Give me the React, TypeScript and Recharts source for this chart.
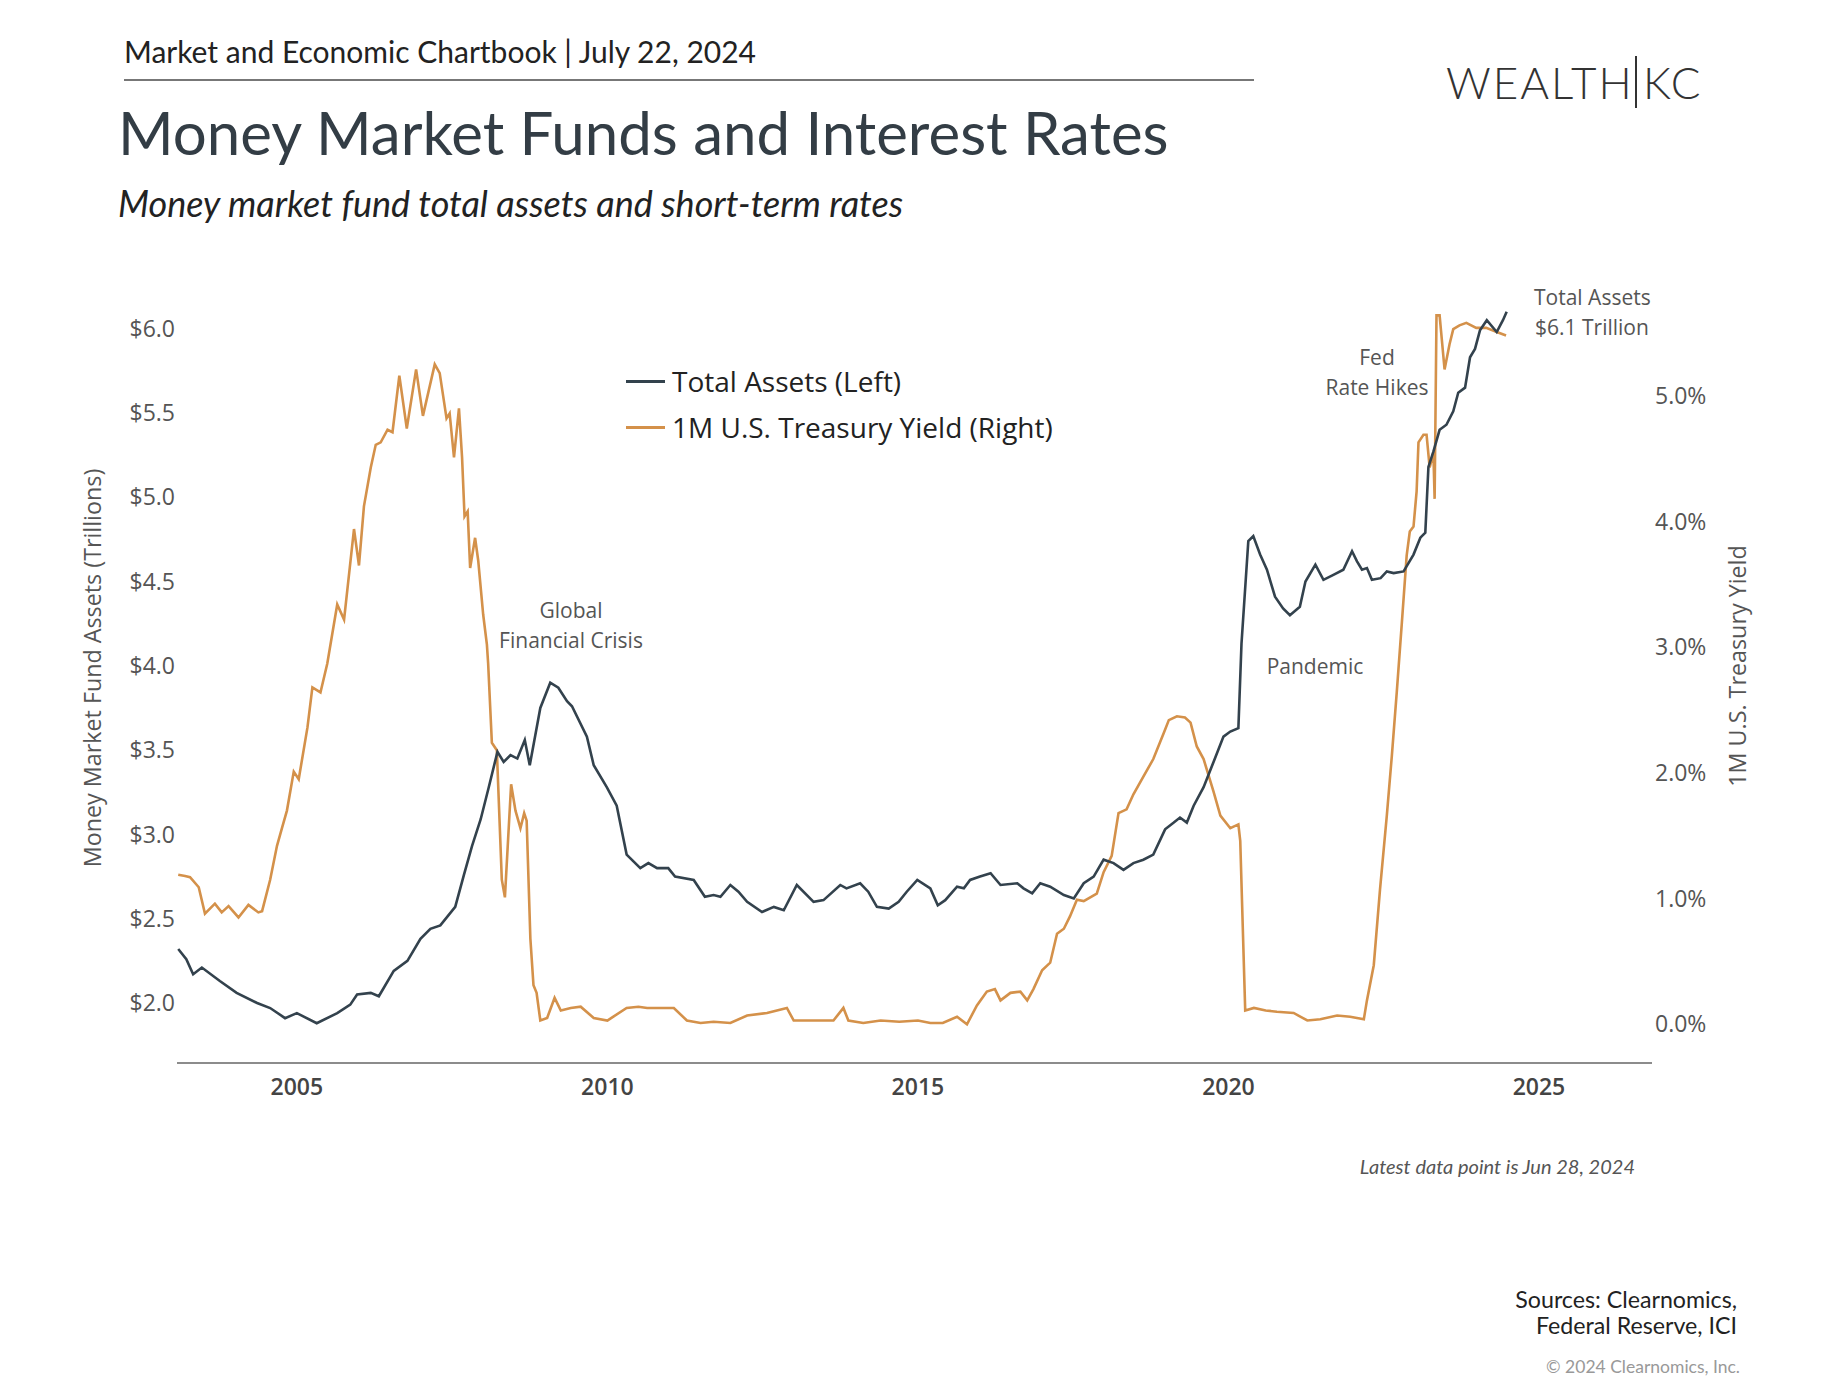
import { LineChart, Line, XAxis, YAxis } from "recharts";

// Money market fund total assets, $ trillions
const assetDates = [
  2003.09, 2003.22, 2003.33, 2003.47, 2003.76, 2004.03, 2004.36, 2004.57, 2004.81, 2005.0,
  2005.32, 2005.65, 2005.86, 2005.97, 2006.19, 2006.32, 2006.56, 2006.78, 2006.99, 2007.15,
  2007.31, 2007.55, 2007.69, 2007.82, 2007.96, 2008.09, 2008.23, 2008.33, 2008.44, 2008.55,
  2008.67, 2008.75, 2008.92, 2009.08, 2009.21, 2009.35, 2009.43, 2009.67, 2009.78, 2009.99,
  2010.15, 2010.31, 2010.53, 2010.66, 2010.8, 2010.98, 2011.09, 2011.39, 2011.57, 2011.71,
  2011.82, 2011.98, 2012.11, 2012.25, 2012.49, 2012.68, 2012.84, 2013.05, 2013.32, 2013.48,
  2013.75, 2013.85, 2014.07, 2014.2, 2014.34, 2014.53, 2014.69, 2014.82, 2014.99, 2015.2,
  2015.32, 2015.44, 2015.63, 2015.74, 2015.84, 2016.0, 2016.17, 2016.33, 2016.6, 2016.7,
  2016.84, 2016.97, 2017.13, 2017.35, 2017.51, 2017.67, 2017.83, 2017.99, 2018.15, 2018.31,
  2018.47, 2018.63, 2018.79, 2018.98, 2019.12, 2019.22, 2019.33, 2019.44, 2019.6, 2019.76,
  2019.92, 2020.03, 2020.16, 2020.21, 2020.32, 2020.4, 2020.51, 2020.62, 2020.75, 2020.88,
  2020.99, 2021.15, 2021.24, 2021.4, 2021.53, 2021.69, 2021.85, 2021.99, 2022.07, 2022.15,
  2022.23, 2022.31, 2022.45, 2022.55, 2022.66, 2022.82, 2022.98, 2023.09, 2023.17, 2023.22,
  2023.3, 2023.4, 2023.51, 2023.62, 2023.7, 2023.81, 2023.89, 2023.97, 2024.05, 2024.16,
  2024.32, 2024.42, 2024.48,
];
const assetValues = [
  2.32, 2.26, 2.17, 2.21, 2.13, 2.06, 2.0, 1.97, 1.91, 1.94,
  1.88, 1.94, 1.99, 2.05, 2.06, 2.04, 2.19, 2.25, 2.38, 2.44,
  2.46, 2.57, 2.76, 2.93, 3.09, 3.28, 3.49, 3.43, 3.47, 3.45,
  3.56, 3.41, 3.75, 3.9, 3.87, 3.79, 3.76, 3.58, 3.41, 3.28,
  3.17, 2.88, 2.8, 2.83, 2.8, 2.8, 2.75, 2.73, 2.63, 2.64,
  2.63, 2.7, 2.66, 2.6, 2.54, 2.57, 2.55, 2.7, 2.6, 2.61,
  2.7, 2.68, 2.71, 2.66, 2.57, 2.56, 2.6, 2.66, 2.73, 2.68,
  2.58, 2.61, 2.69, 2.68, 2.73, 2.75, 2.77, 2.7, 2.71, 2.68,
  2.65, 2.71, 2.69, 2.64, 2.62, 2.71, 2.75, 2.85, 2.83, 2.79,
  2.83, 2.85, 2.88, 3.03, 3.07, 3.1, 3.07, 3.17, 3.28, 3.43,
  3.58, 3.61, 3.63, 4.13, 4.74, 4.77, 4.66, 4.57, 4.41, 4.34,
  4.3, 4.35, 4.5, 4.6, 4.51, 4.54, 4.57, 4.68, 4.62, 4.57,
  4.58, 4.51, 4.52, 4.56, 4.55, 4.56, 4.66, 4.76, 4.79, 5.18,
  5.27, 5.4, 5.43, 5.51, 5.62, 5.65, 5.83, 5.88, 5.99, 6.05,
  5.98, 6.05, 6.1,
];

// 1M U.S. Treasury yield, %
const yieldDates = [
  2003.09, 2003.2, 2003.28, 2003.42, 2003.52, 2003.68, 2003.79, 2003.9, 2004.06, 2004.22,
  2004.38, 2004.44, 2004.57, 2004.68, 2004.76, 2004.84, 2004.95, 2005.03, 2005.17, 2005.25,
  2005.38, 2005.49, 2005.65, 2005.76, 2005.92, 2006.0, 2006.08, 2006.19, 2006.27, 2006.35,
  2006.46, 2006.54, 2006.65, 2006.77, 2006.92, 2007.03, 2007.22, 2007.3, 2007.41, 2007.46,
  2007.53, 2007.61, 2007.66, 2007.7, 2007.75, 2007.79, 2007.87, 2007.92, 2008.0, 2008.06,
  2008.08, 2008.14, 2008.22, 2008.3, 2008.35, 2008.45, 2008.52, 2008.6, 2008.66, 2008.7,
  2008.76, 2008.81, 2008.86, 2008.92, 2009.03, 2009.15, 2009.25, 2009.41, 2009.57, 2009.78,
  2010.0, 2010.31, 2010.5, 2010.64, 2010.85, 2011.07, 2011.28, 2011.5, 2011.71, 2011.98,
  2012.25, 2012.57, 2012.89, 2013.0, 2013.3, 2013.64, 2013.8, 2013.88, 2014.12, 2014.4,
  2014.7, 2015.0, 2015.2, 2015.4, 2015.63, 2015.79, 2015.95, 2016.11, 2016.24, 2016.33,
  2016.49, 2016.65, 2016.76, 2016.86, 2017.0, 2017.13, 2017.24, 2017.35, 2017.45, 2017.56,
  2017.67, 2017.88, 2017.99, 2018.12, 2018.23, 2018.36, 2018.47, 2018.63, 2018.79, 2018.96,
  2019.04, 2019.17, 2019.3, 2019.39, 2019.49, 2019.6, 2019.76, 2019.87, 2020.03, 2020.16,
  2020.19, 2020.27, 2020.41, 2020.6, 2020.78, 2021.05, 2021.27, 2021.48, 2021.75, 2021.96,
  2022.18, 2022.23, 2022.34, 2022.44, 2022.55, 2022.63, 2022.71, 2022.79, 2022.87, 2022.92,
  2022.98, 2023.03, 2023.06, 2023.14, 2023.19, 2023.24, 2023.3, 2023.32, 2023.35, 2023.4,
  2023.48, 2023.56, 2023.62, 2023.72, 2023.83, 2023.99, 2024.15, 2024.31, 2024.47,
];
const yieldValues = [
  1.19, 1.18, 1.17, 1.09, 0.88, 0.96, 0.89, 0.94, 0.85, 0.95,
  0.89, 0.9, 1.15, 1.42, 1.56, 1.7, 2.01, 1.95, 2.36, 2.68,
  2.64, 2.87, 3.34, 3.22, 3.94, 3.65, 4.12, 4.43, 4.61, 4.63,
  4.73, 4.71, 5.16, 4.74, 5.21, 4.84, 5.25, 5.18, 4.82, 4.86,
  4.51, 4.9, 4.51, 4.04, 4.08, 3.63, 3.87, 3.69, 3.26, 3.02,
  2.87, 2.24, 2.18, 1.15, 1.01, 1.91, 1.7, 1.56, 1.68, 1.62,
  0.68, 0.31, 0.25, 0.03, 0.05, 0.21, 0.11, 0.13, 0.14, 0.05,
  0.03, 0.13, 0.14, 0.13, 0.13, 0.13, 0.03, 0.01, 0.02, 0.01,
  0.07, 0.09, 0.13, 0.03, 0.03, 0.03, 0.13, 0.03, 0.01, 0.03,
  0.02, 0.03, 0.01, 0.01, 0.06, 0.0, 0.15, 0.26, 0.28, 0.19,
  0.25, 0.26, 0.19, 0.28, 0.43, 0.49, 0.72, 0.76, 0.86, 0.99,
  0.98, 1.04, 1.21, 1.34, 1.68, 1.71, 1.83, 1.97, 2.11, 2.32,
  2.42, 2.45, 2.44, 2.4, 2.21, 2.11, 1.85, 1.66, 1.56, 1.59,
  1.46, 0.11, 0.13, 0.11, 0.1, 0.09, 0.03, 0.04, 0.07, 0.06,
  0.04, 0.19, 0.47, 1.07, 1.66, 2.13, 2.64, 3.18, 3.73, 3.92,
  3.96, 4.24, 4.63, 4.69, 4.69, 4.43, 4.55, 4.18, 5.64, 5.64,
  5.21, 5.41, 5.53, 5.56, 5.58, 5.54, 5.54, 5.51, 5.48,
];

const yearTicks = [2005, 2010, 2015, 2020, 2025];
const assetTicks = [2.0, 2.5, 3.0, 3.5, 4.0, 4.5, 5.0, 5.5, 6.0];
const yieldTicks = [0, 1, 2, 3, 4, 5];

const assetData = assetDates.map((t, i) => ({ t, assets: assetValues[i] }));
const yieldData = yieldDates.map((t, i) => ({ t, yield: yieldValues[i] }));

const DARK = "#33424d";
const ORANGE = "#d4914a";
const chartFont = "'Open Sans', sans-serif";
const textFont = "Lato, 'Open Sans', sans-serif";

const abs = (left: number, top: number, extra: any = {}) => ({
  position: "absolute" as const,
  left,
  top,
  whiteSpace: "nowrap" as const,
  lineHeight: 1,
  ...extra,
});

const Centered = ({ x, y, children, style }: any) => (
  <div style={abs(x, y, { transform: "translate(-50%, -50%)", ...style })}>{children}</div>
);

const note = { fontFamily: chartFont, fontSize: 21, color: "#555" };
const axisTitle = {
  fontFamily: chartFont,
  fontSize: 23.3,
  color: "#555",
  transform: "translate(-50%, -50%) rotate(-90deg)",
};

export default function App() {
  return (
    <div
      style={{
        position: "absolute",
        left: 0,
        top: 0,
        width: 1846,
        height: 1385,
        background: "#fff",
        overflow: "hidden",
      }}
    >
      <div style={{ position: "absolute", left: 0, top: 0 }}>
        <LineChart width={1846} height={1150} margin={{ top: 300, right: 0, left: 0, bottom: 47 }}>
          <XAxis
            type="number"
            dataKey="t"
            domain={[2003.07, 2026.82]}
            ticks={yearTicks}
            allowDataOverflow
            height={40}
            tickLine={false}
            tickSize={0}
            tickMargin={16}
            axisLine={{ stroke: "#666", strokeWidth: 1.5 }}
            tick={{ fontFamily: chartFont, fontSize: 23, fill: "#444", fontWeight: 600 }}
          />
          <YAxis
            yAxisId="left"
            orientation="left"
            width={177}
            domain={[1.644, 6.17]}
            ticks={assetTicks}
            allowDataOverflow
            axisLine={false}
            tickLine={false}
            tickSize={0}
            tickMargin={2}
            tickFormatter={(v: number) => `$${v.toFixed(1)}`}
            tick={{ fontFamily: chartFont, fontSize: 23, fill: "#555" }}
          />
          <YAxis
            yAxisId="right"
            orientation="right"
            width={194}
            domain={[-0.308, 5.762]}
            ticks={yieldTicks}
            allowDataOverflow
            axisLine={false}
            tickLine={false}
            tickSize={0}
            tickMargin={3}
            tickFormatter={(v: number) => `${v.toFixed(1)}%`}
            tick={{ fontFamily: chartFont, fontSize: 23, fill: "#555" }}
          />
          <Line
            yAxisId="right"
            data={yieldData}
            dataKey="yield"
            type="linear"
            stroke={ORANGE}
            strokeWidth={2.6}
            dot={false}
            isAnimationActive={false}
          />
          <Line
            yAxisId="left"
            data={assetData}
            dataKey="assets"
            type="linear"
            stroke={DARK}
            strokeWidth={2.6}
            dot={false}
            isAnimationActive={false}
          />
        </LineChart>
      </div>

      {/* header */}
      <div style={abs(124, 36, { fontFamily: textFont, fontSize: 30, color: "#222" })}>
        Market and Economic Chartbook | July 22, 2024
      </div>
      <div style={{ position: "absolute", left: 124, top: 79, width: 1130, height: 2, background: "#777" }} />
      <div style={abs(118, 102, { fontFamily: textFont, fontSize: 60, color: "#333d45" })}>
        Money Market Funds and Interest Rates
      </div>
      <div style={abs(118, 185, { fontFamily: textFont, fontSize: 36, fontStyle: "italic", color: "#222" })}>
        Money market fund total assets and short-term rates
      </div>

      {/* logo */}
      <div style={abs(1446, 60, { fontFamily: textFont, fontSize: 44, fontWeight: 300, color: "#333", letterSpacing: 2 })}>
        WEALTH
      </div>
      <div style={{ position: "absolute", left: 1635, top: 56, width: 1.5, height: 52, background: "#333" }} />
      <div style={abs(1643, 60, { fontFamily: textFont, fontSize: 44, fontWeight: 300, color: "#333", letterSpacing: 2 })}>
        KC
      </div>

      {/* legend */}
      <div style={{ position: "absolute", left: 626, top: 380, width: 39, height: 2.6, background: DARK }} />
      <div style={abs(672, 367, { fontFamily: chartFont, fontSize: 28, color: "#222" })}>Total Assets (Left)</div>
      <div style={{ position: "absolute", left: 626, top: 426, width: 39, height: 2.6, background: ORANGE }} />
      <div style={abs(672, 413, { fontFamily: chartFont, fontSize: 28, color: "#222" })}>
        1M U.S. Treasury Yield (Right)
      </div>

      {/* axis titles */}
      <Centered x={93} y={668} style={axisTitle}>
        Money Market Fund Assets (Trillions)
      </Centered>
      <Centered x={1738} y={666} style={axisTitle}>
        1M U.S. Treasury Yield
      </Centered>

      {/* annotations */}
      <Centered x={571} y={610} style={note}>Global</Centered>
      <Centered x={571} y={640} style={note}>Financial Crisis</Centered>
      <Centered x={1315} y={666} style={note}>Pandemic</Centered>
      <Centered x={1377} y={357} style={note}>Fed</Centered>
      <Centered x={1377} y={387} style={note}>Rate Hikes</Centered>
      <div style={abs(1534, 287, note)}>Total Assets</div>
      <div style={abs(1535, 317, note)}>$6.1 Trillion</div>

      {/* footer */}
      <div style={abs(0, 1156, { width: 1635, textAlign: "right", fontFamily: textFont, fontSize: 20, fontStyle: "italic", color: "#555" })}>
        Latest data point is Jun 28, 2024
      </div>
      <div style={abs(0, 1286, { width: 1737, textAlign: "right", fontFamily: textFont, fontSize: 23.2, color: "#222", lineHeight: "26px" })}>
        Sources: Clearnomics,
        <br />
        Federal Reserve, ICI
      </div>
      <div style={abs(0, 1358, { width: 1740, textAlign: "right", fontFamily: textFont, fontSize: 17.5, color: "#999" })}>
        © 2024 Clearnomics, Inc.
      </div>
    </div>
  );
}
